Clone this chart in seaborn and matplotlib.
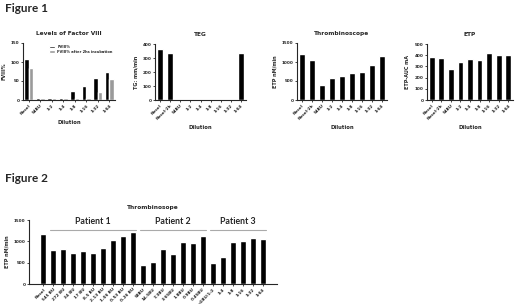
import matplotlib
matplotlib.use("Agg")
import pandas as pd
import seaborn as sns
import matplotlib.pyplot as plt

sns.set_style("ticks")
plt.rcParams['font.family'] = ['DejaVu Sans']

# Figure 1 data
f8_labels = ["Nosol", "54BU", "1:2", "1:4", "1:8", "1:16", "1:32", "1:64"]
f8_fresh = [108, 5, 5, 5, 24, 38, 58, 74]
f8_2hrs = [83, 4, 4, 4, 4, 4, 20, 56]

dil_labels = ["Nosol", "Nosol-2h", "54BU", "1:2", "1:4", "1:8", "1:16", "1:32", "1:64"]
teg_vals = [366, 334, 0, 0, 0, 0, 0, 0, 338]
thrombo_vals = [1219, 1053, 395, 579, 623, 702, 728, 921, 1158]
etp_vals = [382, 376, 281, 337, 364, 355, 423, 405, 405]

# Figure 2 data
fig2_labels = ["Nosol", "545 BU", "272 BU", "34 BU", "17 BU", "8.5 BU", "2.13 BU",
               "1.06 BU", "0.53 BU", "0.26 BU",
               "58BU", "14.5BU", "7.3BU", "3.65BU", "1.8BU", "0.9BU", "0.45BU",
               "<1BU/1:2", "1:4", "1:8", "1:16", "1:32", "1:64"]
fig2_vals = [1166, 800, 824, 738, 777, 723, 839, 1026, 1135, 1220,
             435, 513, 816, 700, 995, 964, 1135,
             482, 637, 979, 1010, 1088, 1065]
patients = ["Patient 1", "Patient 2", "Patient 3"]
patient_spans = [(1, 9), (10, 16), (17, 22)]

W, H = 520, 304
fig = plt.figure(figsize=(5.2, 3.04), dpi=100)


def box(l, t, r, b):
    return [l / W, 1 - b / H, (r - l) / W, (b - t) / H]


def style(ax, title, ylabel, ymax, step, xlabel="Dilution"):
    ax.set_ylim(0, ymax)
    ax.set_yticks(range(0, ymax + 1, step))
    ax.set_title(title, fontsize=4.2, fontweight="bold", pad=6)
    ax.set_ylabel(ylabel, fontsize=3.5, fontweight="bold", labelpad=3)
    ax.set_xlabel(xlabel, fontsize=3.8, fontweight="bold", labelpad=3)
    ax.tick_params(axis="both", labelsize=3, length=1.5, width=0.6, pad=1)
    for lab in ax.get_xticklabels():
        lab.set_rotation(45)
        lab.set_ha("right")
        lab.set_rotation_mode("anchor")
        lab.set_fontweight("bold")
    for lab in ax.get_yticklabels():
        lab.set_fontweight("bold")
    for s in ["left", "bottom"]:
        ax.spines[s].set_linewidth(0.8)
    sns.despine(ax=ax)


fig.text(5 / W, 1 - 12 / H, "Figure 1", fontsize=8.5, fontweight="bold",
         family=["Lato", "DejaVu Sans"])
fig.text(5 / W, 1 - 182 / H, "Figure 2", fontsize=8.5, fontweight="bold",
         family=["Lato", "DejaVu Sans"])

# Panel 1: Levels of Factor VIII
ax1 = fig.add_axes(box(23, 43, 115, 100))
df1 = pd.DataFrame({
    "Dilution": f8_labels * 2,
    "value": f8_fresh + f8_2hrs,
    "group": ["FVIII%"] * len(f8_labels) + ["FVIII% after 2hs incubation"] * len(f8_labels),
})
sns.barplot(data=df1, x="Dilution", y="value", hue="group", order=f8_labels,
            palette=["#000000", "#9a9a9a"], width=0.8, ax=ax1)
ax1.legend(loc="upper right", frameon=False, handlelength=1.5,
           handleheight=0.6, borderaxespad=0.2, labelspacing=0.2,
           prop={"size": 2.6, "weight": "bold"})
style(ax1, "Levels of Factor VIII", "FVIII%", 150, 50)

# Panel 2: TEG
ax2 = fig.add_axes(box(155, 44, 246, 100))
sns.barplot(x=dil_labels, y=teg_vals, color="black", width=0.6, ax=ax2)
style(ax2, "TEG", "TG: mm/min", 400, 100)

# Panel 3: Thrombinoscope
ax3 = fig.add_axes(box(297, 43, 387, 100))
sns.barplot(x=dil_labels, y=thrombo_vals, color="black", width=0.6, ax=ax3)
style(ax3, "Thrombinoscope", "ETP nM/min", 1500, 500)

# Panel 4: ETP
ax4 = fig.add_axes(box(427, 44, 513, 100))
sns.barplot(x=dil_labels, y=etp_vals, color="black", width=0.6, ax=ax4)
style(ax4, "ETP", "ETP-AUC mA", 500, 100)

# Figure 2
ax5 = fig.add_axes(box(29, 220, 277, 284))
sns.barplot(x=fig2_labels, y=fig2_vals, color="black", width=0.62, ax=ax5)
style(ax5, "Thrombinosope", "ETP nM/min", 1500, 500, xlabel="")
ax5.set_title("Thrombinosope", fontsize=4.2, fontweight="bold", pad=8)
tr = ax5.get_xaxis_transform()
for name, (a, b) in zip(patients, patient_spans):
    ax5.plot([a - 0.3, b + 0.3], [0.84, 0.84], color="#aaaaaa", lw=0.8,
             transform=tr, clip_on=False)
    ax5.text((a + b) / 2, 0.9, name, transform=tr, ha="center", va="bottom",
             fontsize=6.3, fontweight="bold", family=["Lato", "DejaVu Sans"])

fig.savefig("out.png", dpi=100)
